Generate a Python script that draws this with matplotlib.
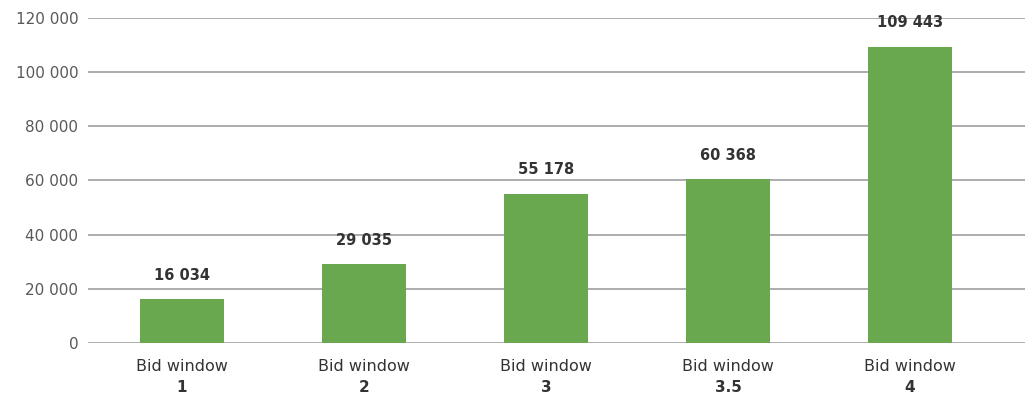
import matplotlib

matplotlib.use("Agg")
import matplotlib.pyplot as plt
from matplotlib.ticker import FuncFormatter

windows = ["1", "2", "3", "3.5", "4"]
mw_procured = [16034, 29035, 55178, 60368, 109443]
y_ticks = [0, 20000, 40000, 60000, 80000, 100000, 120000]

BAR_GREEN = "#6aa84f"
GRID_GREY = "#a6a6a6"
TEXT_GREY = "#595959"
TEXT_DARK = "#333333"


def space_thousands(value, _pos=None):
    return f"{int(value):,}".replace(",", " ")


plt.rcParams["font.family"] = ["DejaVu Sans"]

fig = plt.figure(figsize=(10.25, 4.01), dpi=100)
ax = fig.add_axes([0.086, 0.145, 0.914, 0.81])

positions = range(len(windows))
ax.bar(positions, mw_procured, width=0.46, color=BAR_GREEN, zorder=2)

for x, value in zip(positions, mw_procured):
    ax.annotate(space_thousands(value), (x, value), xytext=(0, 12),
                textcoords="offset points", ha="center", va="bottom",
                fontsize=10.5, fontweight="bold", color=TEXT_DARK)

# two-line category labels: plain caption, bold window number
for x, name in zip(positions, windows):
    ax.text(x, -0.05, "Bid window", transform=ax.get_xaxis_transform(),
            ha="center", va="top", fontsize=11.5, color=TEXT_DARK)
    ax.text(x, -0.115, name, transform=ax.get_xaxis_transform(),
            ha="center", va="top", fontsize=11, fontweight="bold", color=TEXT_DARK)

ax.set_ylim(0, 120000)
ax.set_xlim(-0.516, 4.632)
ax.set_yticks(y_ticks)
ax.yaxis.set_major_formatter(FuncFormatter(space_thousands))
ax.set_xticks([])
ax.tick_params(axis="y", length=0, pad=7, labelsize=11, labelcolor=TEXT_GREY)
ax.grid(axis="y", color=GRID_GREY, linewidth=1.3, zorder=1)
for spine in ax.spines.values():
    spine.set_visible(False)

fig.savefig("out.png", dpi=100)
plt.close(fig)
